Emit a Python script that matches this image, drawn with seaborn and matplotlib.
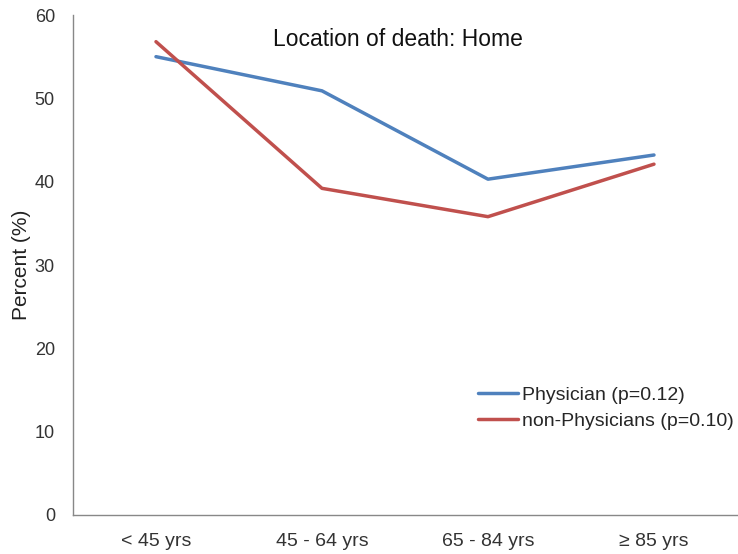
import matplotlib
matplotlib.use("Agg")
import matplotlib.pyplot as plt
import pandas as pd
import seaborn as sns

age_groups = ["< 45 yrs", "45 - 64 yrs", "65 - 84 yrs", "\u2265 85 yrs"]
physician = [55.0, 50.9, 40.3, 43.2]
non_physician = [56.8, 39.2, 35.8, 42.1]
series_names = ["Physician (p=0.12)", "non-Physicians (p=0.10)"]
colors = ["#4F81BD", "#C0504D"]

df = pd.DataFrame({
    "age": age_groups * 2,
    "pct": physician + non_physician,
    "group": [series_names[0]] * 4 + [series_names[1]] * 4,
})

sns.set_style("white")
plt.rcParams["font.family"] = ["Liberation Sans", "DejaVu Sans"]

fig = plt.figure(figsize=(7.38, 5.54), dpi=100)
ax = fig.add_axes([0.0989, 0.0704, 0.8997, 0.9025])

sns.lineplot(data=df, x="age", y="pct", hue="group", palette=colors,
             linewidth=2.5, ax=ax, sort=False)

ax.set_xlim(-0.5, 3.5)
ax.set_ylim(0, 60)
ax.set_yticks(range(0, 61, 10))
ax.set_xlabel("")
ax.set_ylabel("Percent (%)", fontsize=15, color="#222222", labelpad=3)
ax.text(0.49, 0.975, "Location of death: Home", transform=ax.transAxes,
        ha="center", va="top", fontsize=16.5, color="#111111")

for side in ["top", "right"]:
    ax.spines[side].set_visible(False)
for side in ["left", "bottom"]:
    ax.spines[side].set_color("#888888")
    ax.spines[side].set_linewidth(1.0)
ax.tick_params(axis="both", which="both", direction="out", length=5,
               color="#888888", labelsize=13, labelcolor="#333333")
ax.tick_params(axis="y", pad=8)
ax.tick_params(axis="x", pad=8, labelsize=14)

leg = ax.legend(loc="upper left", bbox_to_anchor=(0.61, 0.258), frameon=False,
                fontsize=14, handlelength=2.05, handletextpad=0.2,
                labelspacing=0.45, borderpad=0, borderaxespad=0)

fig.savefig("out.png", dpi=100)
